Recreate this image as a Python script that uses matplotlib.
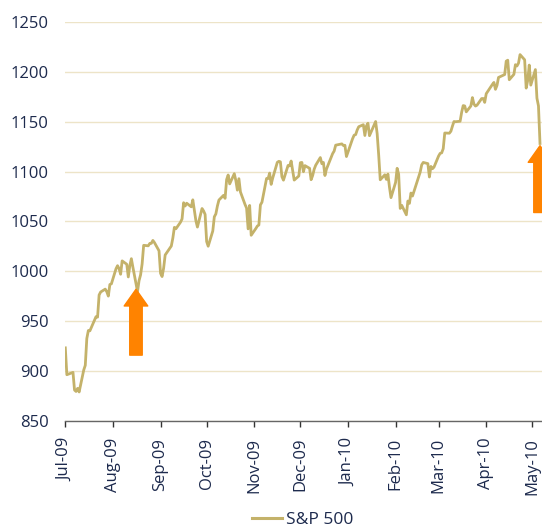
import numpy as np
import matplotlib
matplotlib.use("Agg")
import matplotlib.pyplot as plt
import matplotlib.dates as mdates

plt.rcParams["font.family"] = ["Open Sans", "DejaVu Sans"]

# S&P 500 daily closes, Jul-2009 .. May-2010 (day of month, close)
jul09_days = [1, 2, 6, 7, 8, 9, 10, 13, 14, 15, 16, 17, 20, 21, 22, 23, 24, 27, 28, 29, 30, 31]
jul09_close = [923.3, 896.4, 898.7, 881.0, 879.6, 882.7, 879.1, 901.1, 905.8, 932.7, 940.7,
               940.4, 951.1, 954.6, 954.1, 976.3, 979.3, 982.2, 979.6, 975.2, 986.8, 987.5]
aug09_days = [3, 4, 5, 6, 7, 10, 11, 12, 13, 14, 17, 18, 19, 20, 21, 24, 25, 26, 27, 28, 31]
aug09_close = [1002.6, 1005.7, 1002.7, 997.1, 1010.5, 1007.1, 994.4, 1005.8, 1012.7, 1004.1,
               979.7, 990.7, 996.5, 1007.4, 1026.1, 1025.6, 1028.0, 1028.1, 1031.0, 1028.9, 1020.6]
sep09_days = [1, 2, 3, 4, 8, 9, 10, 11, 14, 15, 16, 17, 18, 21, 22, 23, 24, 25, 28, 29, 30]
sep09_close = [998.0, 994.8, 1003.2, 1016.4, 1025.4, 1033.4, 1044.1, 1042.7, 1049.3, 1052.6,
               1068.8, 1065.5, 1068.3, 1064.7, 1071.7, 1060.9, 1050.8, 1044.4, 1063.0, 1060.6, 1057.1]
oct09_days = [1, 2, 5, 6, 7, 8, 9, 12, 13, 14, 15, 16, 19, 20, 21, 22, 23, 26, 27, 28, 29, 30]
oct09_close = [1029.9, 1025.2, 1040.5, 1054.7, 1057.6, 1065.5, 1071.5, 1076.2, 1073.2, 1092.0,
               1096.6, 1087.7, 1097.9, 1091.1, 1081.4, 1092.9, 1079.6, 1067.0, 1063.4, 1042.6,
               1066.1, 1036.2]
nov09_days = [2, 3, 4, 5, 6, 9, 10, 11, 12, 13, 16, 17, 18, 19, 20, 23, 24, 25, 27, 30]
nov09_close = [1042.9, 1045.4, 1046.5, 1066.6, 1069.3, 1093.1, 1093.0, 1098.5, 1087.2, 1093.5,
               1109.3, 1110.3, 1109.8, 1094.9, 1091.4, 1106.2, 1105.7, 1110.6, 1091.5, 1095.6]
dec09_days = [1, 2, 3, 4, 7, 8, 9, 10, 11, 14, 15, 16, 17, 18, 21, 22, 23, 24, 28, 29, 30, 31]
dec09_close = [1108.9, 1109.2, 1099.9, 1106.0, 1103.3, 1091.9, 1096.0, 1102.4, 1106.4, 1114.1,
               1107.9, 1109.2, 1096.1, 1102.5, 1114.1, 1118.0, 1120.6, 1126.5, 1127.8, 1126.2,
               1126.4, 1115.1]
jan10_days = [4, 5, 6, 7, 8, 11, 12, 13, 14, 15, 19, 20, 21, 22, 25, 26, 27, 28, 29]
jan10_close = [1133.0, 1136.5, 1137.1, 1141.7, 1145.0, 1147.0, 1136.2, 1145.7, 1148.5, 1136.0,
               1150.2, 1138.0, 1116.5, 1091.8, 1096.8, 1092.2, 1097.5, 1084.5, 1073.9]
feb10_days = [1, 2, 3, 4, 5, 8, 9, 10, 11, 12, 16, 17, 18, 19, 22, 23, 24, 25, 26]
feb10_close = [1089.2, 1103.3, 1097.3, 1063.1, 1066.2, 1056.7, 1070.5, 1068.1, 1078.5, 1075.5,
               1094.9, 1099.5, 1106.8, 1109.2, 1108.0, 1094.6, 1105.2, 1102.9, 1104.5]
mar10_days = [1, 2, 3, 4, 5, 8, 9, 10, 11, 12, 15, 16, 17, 18, 19, 22, 23, 24, 25, 26, 29, 30, 31]
mar10_close = [1115.7, 1118.3, 1118.8, 1123.0, 1138.7, 1138.5, 1140.5, 1145.6, 1150.2, 1150.0,
               1150.5, 1159.5, 1166.2, 1165.8, 1159.9, 1165.8, 1174.2, 1167.7, 1165.7, 1166.6,
               1173.2, 1173.3, 1169.4]
apr10_days = [1, 5, 6, 7, 8, 9, 12, 13, 14, 15, 16, 19, 20, 21, 22, 23, 26, 27, 28, 29, 30]
apr10_close = [1178.1, 1187.4, 1189.4, 1182.5, 1186.4, 1194.4, 1196.5, 1197.3, 1210.7, 1211.7,
               1192.1, 1197.5, 1207.2, 1205.9, 1208.7, 1217.3, 1212.1, 1183.7, 1191.4, 1206.8,
               1186.7]
may10_days = [3, 4, 5, 6]
may10_close = [1202.3, 1173.6, 1165.9, 1128.2]

months = [(2009, 7, jul09_days, jul09_close), (2009, 8, aug09_days, aug09_close),
          (2009, 9, sep09_days, sep09_close), (2009, 10, oct09_days, oct09_close),
          (2009, 11, nov09_days, nov09_close), (2009, 12, dec09_days, dec09_close),
          (2010, 1, jan10_days, jan10_close), (2010, 2, feb10_days, feb10_close),
          (2010, 3, mar10_days, mar10_close), (2010, 4, apr10_days, apr10_close),
          (2010, 5, may10_days, may10_close)]

tick_labels = ["Jul-09", "Aug-09", "Sep-09", "Oct-09", "Nov-09", "Dec-09",
               "Jan-10", "Feb-10", "Mar-10", "Apr-10", "May-10"]

# the two marked dips: arrow tip and tail values
arrow_dates = ["2009-08-16", "2010-05-06"]
arrow_tips = [982, 1126]
arrow_tails = [916, 1059]

dates, closes = [], []
for year, month, days, vals in months:
    dates += [np.datetime64(f"{year}-{month:02d}-{d:02d}") for d in days]
    closes += vals
x = mdates.date2num(np.array(dates))
y = np.array(closes)

month_starts = mdates.date2num(np.array(
    [np.datetime64(f"{yr}-{m:02d}-01") for yr, m, _, _ in months]))

navy = "#1d2a4d"
gold = "#c4b26a"
grid = "#ede4c8"
orange = "#ff8300"

fig = plt.figure(figsize=(5.42, 5.31), dpi=100)
ax = fig.add_axes([0.1205, 0.2072, 0.8795, 0.7514])

ax.plot(x, y, color=gold, lw=2.0, zorder=3)
ax.set_ylim(850, 1250)
ax.set_yticks(np.arange(850, 1251, 50))
ax.set_xlim(month_starts[0], month_starts[0] + 310.3)
ax.set_xticks(month_starts)
ax.set_xticklabels(tick_labels, rotation=90)
ax.yaxis.grid(True, color=grid, lw=1.0)
ax.set_axisbelow(True)
ax.tick_params(axis="y", length=0, pad=12, labelsize=12, labelcolor=navy)
ax.tick_params(axis="x", direction="out", length=4, width=1, color="#333333",
               pad=8, labelsize=12, labelcolor=navy)
for name, s in ax.spines.items():
    s.set_visible(name == "bottom")
ax.spines["bottom"].set_color("#666666")
ax.spines["bottom"].set_linewidth(1.0)

for d, tip, tail in zip(arrow_dates, arrow_tips, arrow_tails):
    xd = mdates.date2num(np.datetime64(d))
    ax.annotate("", xy=(xd, tip), xytext=(xd, tail),
                arrowprops=dict(arrowstyle="simple,head_length=1.2,head_width=1.7,tail_width=0.9",
                                color=orange, shrinkA=0, shrinkB=0, mutation_scale=10),
                annotation_clip=False, zorder=4)

line_handle = plt.Line2D([], [], color=gold, lw=2.2)
fig.legend([line_handle], ["S&P 500"], loc="center", bbox_to_anchor=(0.559, 0.021),
           frameon=False, fontsize=12.5, labelcolor=navy, handlelength=1.73,
           handletextpad=0.25, borderpad=0)

fig.savefig("out.png", dpi=100)
